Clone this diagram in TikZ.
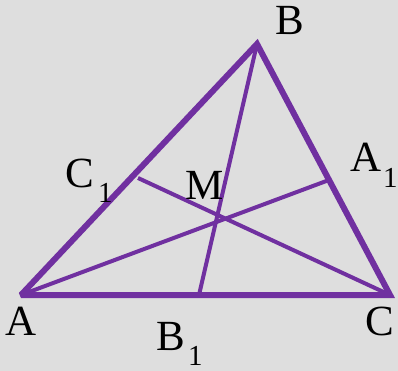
\documentclass[tikz,border=0pt]{standalone}
\usepackage{fontspec}
\setmainfont{Liberation Serif}
\begin{document}
\begin{tikzpicture}[x=1pt,y=-1pt,
  side/.style={draw=tri, line width=6pt, line join=miter, miter limit=2},
  med/.style={draw=tri, line width=4pt},
  lbl/.style={inner sep=0pt, anchor=base west, font=\fontsize{43}{43}\selectfont},
  sub/.style={inner sep=0pt, anchor=base west, font=\fontsize{29}{29}\selectfont}]
\definecolor{tri}{HTML}{7030A0}
\definecolor{bg}{HTML}{DEDEDE}
\fill[bg] (0,0) rectangle (398,371);
\useasboundingbox (0,0) rectangle (398,371);
\coordinate (A) at (21,295);
\coordinate (B) at (257,44);
\coordinate (C) at (390,295);
\coordinate (A1) at (329,180);
\coordinate (B1) at (199,295);
\coordinate (C1) at (138,178);
\draw[med] (A) -- (A1);
\draw[med] (B) -- (B1);
\draw[med] (C) -- (C1);
\draw[side] (A) -- (B) -- (C) -- cycle;
\node[lbl] (lB) at (275,35) {B};
\node[lbl] (lA) at (5,335) {A};
\node[lbl] (lC) at (365,335) {C};
\node[lbl] (lM) at (185,200) {M};
\node[lbl] (lC1) at (65,187) {C};
\node[sub] (sC1) at (98,203) {1};
\node[lbl] (lA1) at (350,172) {A};
\node[sub] (sA1) at (383,187) {1};
\node[lbl] (lB1) at (156,350) {B};
\node[sub] (sB1) at (188,365) {1};
\end{tikzpicture}
\end{document}
